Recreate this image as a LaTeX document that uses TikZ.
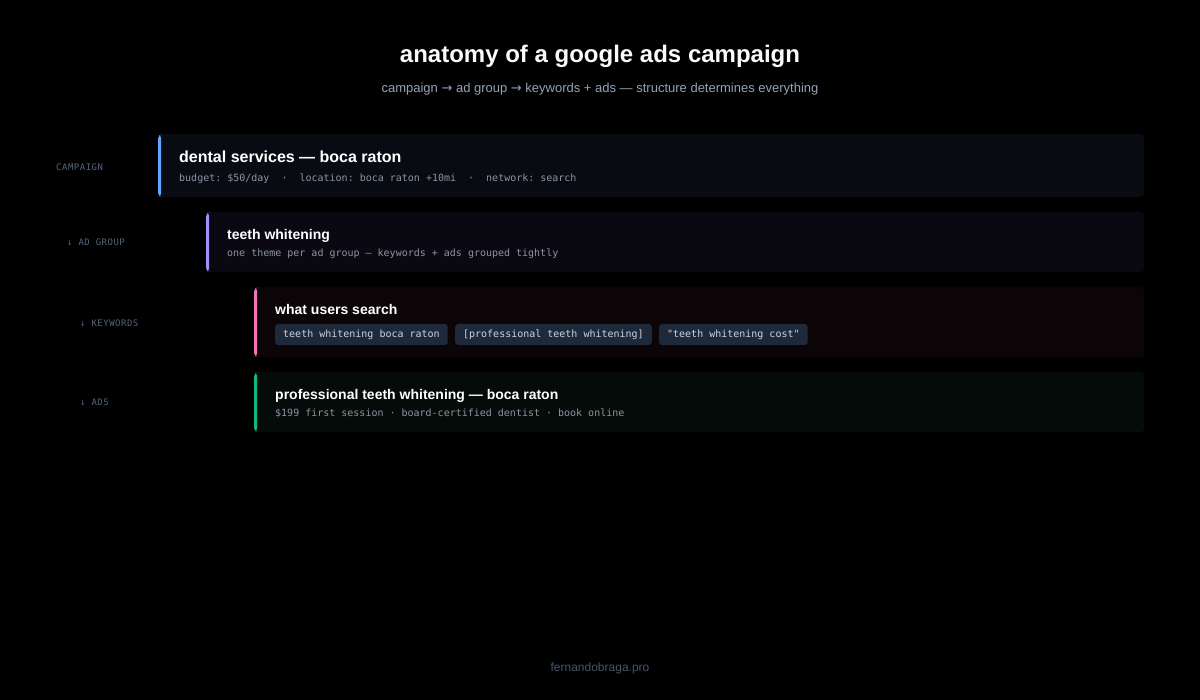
\documentclass[tikz,border=0pt]{standalone}
\usepackage{fontspec}
\setmainfont{Liberation Sans}
\newfontfamily\monof{DejaVu Sans Mono}
\newfontfamily\labf[LetterSpace=5.5]{DejaVu Sans Mono}
\newfontfamily\arrf{DejaVu Sans}
\frenchspacing
\definecolor{bg}{HTML}{000000}
\definecolor{fillA}{HTML}{080B11}
\definecolor{fillB}{HTML}{0A0810}
\definecolor{fillC}{HTML}{0C0507}
\definecolor{fillD}{HTML}{040B08}
\definecolor{accA}{HTML}{60A5FA}
\definecolor{accB}{HTML}{A78BFA}
\definecolor{accC}{HTML}{F472B6}
\definecolor{accD}{HTML}{10B981}
\definecolor{titlec}{HTML}{F8FAFC}
\definecolor{subc}{HTML}{94A3B8}
\definecolor{detc}{HTML}{8B95A5}
\definecolor{labc}{HTML}{55657D}
\definecolor{chipf}{HTML}{1E293B}
\definecolor{chipt}{HTML}{CBD5E1}
\definecolor{footc}{HTML}{475569}
\tikzset{
  card/.style 2 args={draw=none, fill=#1, rounded corners=4pt, inner sep=0pt,
    anchor=north west,
    path picture={\fill[#2] (path picture bounding box.south west) rectangle ([xshift=3pt]path picture bounding box.north west);}},
  cardtitle/.style={anchor=mid west, inner sep=0pt, text=white, font=\bfseries\fontsize{14}{16}\selectfont},
  carddet/.style={anchor=mid west, inner sep=0pt, text=detc, font=\monof\frenchspacing\fontsize{10}{12}\selectfont},
  lvl/.style={anchor=mid west, inner sep=0pt, text=labc, font=\labf\fontsize{9}{11}\selectfont},
  chip/.style={anchor=west, fill=chipf, rounded corners=3pt, inner xsep=8pt, inner ysep=0pt,
    minimum height=21pt, text=chipt, font=\monof\frenchspacing\fontsize{10}{12}\selectfont},
}
\newcommand{\ar}{{\arrf\raisebox{0.3pt}{→}}}
\begin{document}
\begin{tikzpicture}[x=1pt,y=-1pt]
\fill[bg] (0,0) rectangle (1200,700);
\useasboundingbox (0,0) rectangle (1200,700);

\node[anchor=mid, inner sep=0pt, text=titlec, font=\bfseries\fontsize{24}{28}\selectfont] (title) at (600,60) {anatomy of a google ads campaign};
\node[anchor=mid, inner sep=0pt, text=subc, font=\fontsize{13}{15}\selectfont] (subtitle) at (600,90) {campaign \ar{} ad group \ar{} keywords + ads — structure determines everything};

% cards
\node[card={fillA}{accA}, minimum width=986pt, minimum height=63pt] (camp) at (158,134) {};
\node[card={fillB}{accB}, minimum width=938pt, minimum height=60pt] (grp) at (206,212) {};
\node[card={fillC}{accC}, minimum width=890pt, minimum height=70pt] (kw) at (254,287) {};
\node[card={fillD}{accD}, minimum width=890pt, minimum height=60pt] (ads) at (254,372) {};

% level labels
\node[lvl] (lcamp) at (56,168) {CAMPAIGN};
\node[lvl] (lgrp) at (67,243) {↓ AD GROUP};
\node[lvl] (lkw) at (80,324) {↓ KEYWORDS};
\node[lvl] (lads) at (80,403) {↓ ADS};

% campaign
\node[cardtitle, font=\bfseries\fontsize{16}{18}\selectfont] (ctitle) at (179,160) {dental services — boca raton};
\node[carddet] (cdet) at (179,179) {budget: \$50/day\ \ ·\ \ location: boca raton +10mi\ \ ·\ \ network: search};

% ad group
\node[cardtitle] (gtitle) at (227,237) {teeth whitening};
\node[carddet] (gdet) at (227,254) {one theme per ad group — keywords + ads grouped tightly};

% keywords
\node[cardtitle] (ktitle) at (275,312) {what users search};
\node[chip] (k1) at (275,334.5) {teeth whitening boca raton};
\node[chip] (k2) at ([xshift=7pt]k1.east) {[professional teeth whitening]};
\node[chip] (k3) at ([xshift=7pt]k2.east) {"teeth whitening cost"};

% ads
\node[cardtitle] (atitle) at (275,397) {professional teeth whitening — boca raton};
\node[carddet] (adet) at (275,414) {\$199 first session · board-certified dentist · book online};

\node[anchor=mid, inner sep=0pt, text=footc, font=\fontsize{12}{14}\selectfont] (foot) at (600,669) {fernandobraga.pro};
\end{tikzpicture}
\end{document}
